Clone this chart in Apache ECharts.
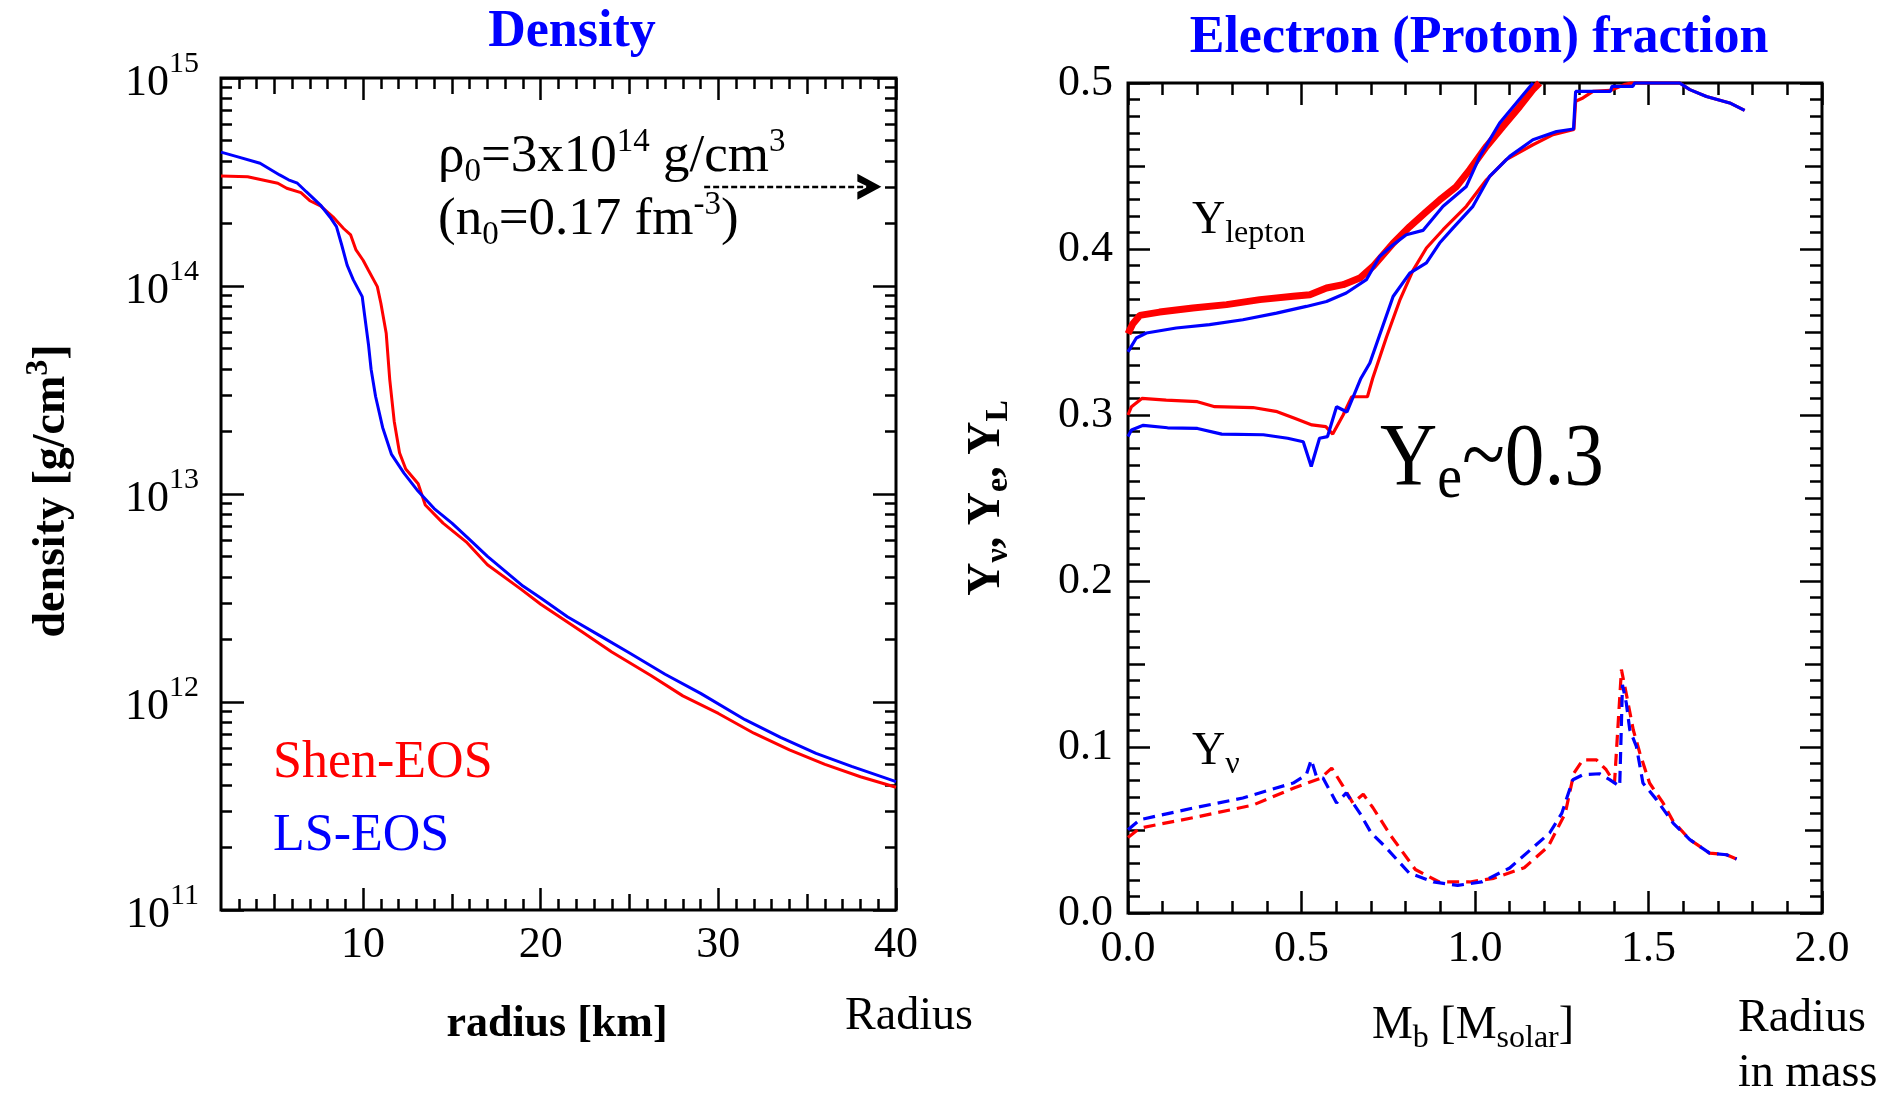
<!DOCTYPE html>
<html>
<head>
<meta charset="utf-8">
<title>Density and electron fraction profiles</title>
<script src="https://cdn.jsdelivr.net/npm/echarts@6/dist/echarts.min.js"></script>
<style>
  html, body { margin: 0; padding: 0; background: #fff; overflow: hidden; }
  #chart { width: 1898px; height: 1093px; }
</style>
</head>
<body>
<div id="chart"></div>
<script>
// ---------- Left panel: density profile, radius [km] vs density [g/cm^3] ----------
const shenRadius = [2, 3.5, 5.2, 5.7, 6.5, 7.0, 7.6, 8.3, 8.9, 9.3, 9.6, 10.0, 10.3, 10.8, 11.0, 11.3, 11.5, 11.75, 12.05, 12.4,
  13.1, 13.5, 14.5, 15.8, 17, 18.9, 20, 22.3, 24, 26.2, 28, 30, 32, 34, 36, 38, 40];
const shenDensity = [3.38e14, 3.35e14, 3.12e14, 2.95e14, 2.81e14, 2.57e14, 2.43e14, 2.15e14, 1.89e14, 1.76e14,
  1.49e14, 1.33e14, 1.19e14, 9.93e13, 8.26e13, 5.93e13, 3.55e13, 2.24e13, 1.58e13, 1.32e13,
  1.12e13, 8.85e12, 7.24e12, 5.89e12, 4.57e12, 3.48e12, 2.95e12, 2.18e12, 1.74e12, 1.34e12,
  1.07e12, 8.81e11, 7.08e11, 5.89e11, 5.01e11, 4.37e11, 3.89e11];

const lsRadius = [2, 2.9, 4.2, 5.3, 5.8, 6.3, 6.8, 7.6, 8.2, 8.5, 8.8, 9.1, 9.45, 9.95, 10.1, 10.3, 10.45, 10.7, 11.1, 11.6,
  12.3, 13.1, 14, 15, 16, 17, 19, 20, 21.5, 23.3, 25, 27, 29, 31.5, 33.5, 35.5, 37.5, 40];
const lsDensity = [4.40e14, 4.19e14, 3.89e14, 3.42e14, 3.24e14, 3.12e14, 2.84e14, 2.45e14, 2.11e14, 1.93e14,
  1.57e14, 1.26e14, 1.07e14, 8.89e13, 7.08e13, 5.25e13, 3.98e13, 2.95e13, 2.09e13, 1.55e13,
  1.26e13, 1.03e13, 8.51e12, 7.24e12, 6.03e12, 5.01e12, 3.61e12, 3.16e12, 2.57e12, 2.09e12,
  1.72e12, 1.36e12, 1.10e12, 8.22e11, 6.76e11, 5.66e11, 4.90e11, 4.14e11];

// nuclear saturation density marker (rho_0 = 3x10^14 g/cm^3): dotted arrow from / to these radii
const nuclearDensity = 3e14;
const rhoArrowRadius = [29.2, 38.5];

// tick values of the density panel
const radiusMajorTicks = [10, 20, 30, 40];
const radiusMidTicks = [5, 15, 25, 35];
const radiusMinorTicks = [];
for (let r = 3; r < 40; r++) if (r % 5 !== 0) radiusMinorTicks.push(r);
const densityDecades = [1e11, 1e12, 1e13, 1e14, 1e15];
const densityMinorTicks = [];
[1e11, 1e12, 1e13, 1e14].forEach(d => { for (let k = 2; k <= 9; k++) densityMinorTicks.push(k * d); });
// keep the top decade a hair inside the axis extent so float round-off in the log scale does not drop it
const densityDecadeTicks = densityDecades.map(v => (v === 1e15 ? v * (1 - 1e-9) : v));

// ---------- Right panel: lepton, electron and neutrino fractions vs baryon mass [M_solar] ----------
const shenYlepton = [[0, 0.349], [0.014, 0.355], [0.034, 0.360], [0.091, 0.362], [0.187, 0.3645], [0.284, 0.3665],
  [0.38, 0.3695], [0.476, 0.3715], [0.524, 0.3725], [0.572, 0.3765], [0.62, 0.3785], [0.668, 0.3825], [0.706, 0.3895],
  [0.764, 0.4035], [0.812, 0.4135], [0.86, 0.4225], [0.898, 0.4295], [0.946, 0.4375], [0.985, 0.4478], [1.033, 0.4618],
  [1.081, 0.4739], [1.129, 0.4859], [1.167, 0.496], [1.186, 0.5]];

const lsYlepton = [[0, 0.338], [0.024, 0.3464], [0.053, 0.3494], [0.139, 0.3524], [0.235, 0.3544], [0.331, 0.3574],
  [0.428, 0.3614], [0.514, 0.3654], [0.572, 0.3684], [0.629, 0.3735], [0.687, 0.3815], [0.725, 0.3955], [0.764, 0.4026],
  [0.802, 0.4086], [0.85, 0.4112], [0.908, 0.4257], [0.975, 0.4377], [1.014, 0.4558], [1.071, 0.4759], [1.119, 0.488],
  [1.167, 0.5]];

const shenYe = [[0, 0.300], [0.01, 0.305], [0.04, 0.310], [0.11, 0.309], [0.2, 0.308], [0.25, 0.305], [0.36, 0.3045],
  [0.43, 0.302], [0.48, 0.298], [0.53, 0.294], [0.57, 0.293], [0.59, 0.2885], [0.62, 0.300], [0.645, 0.311], [0.69, 0.311],
  [0.705, 0.322], [0.745, 0.347], [0.783, 0.369], [0.821, 0.387], [0.86, 0.4006], [0.908, 0.4116], [0.975, 0.4257],
  [1.033, 0.4417], [1.09, 0.4538], [1.167, 0.4628], [1.225, 0.4689], [1.285, 0.472], [1.29, 0.489], [1.311, 0.491],
  [1.34, 0.4949], [1.39, 0.4955], [1.43, 0.499], [1.45, 0.5], [1.59, 0.5], [1.619, 0.496], [1.667, 0.4919],
  [1.734, 0.488], [1.777, 0.4835]];

const lsYe = [[0, 0.287], [0.01, 0.291], [0.044, 0.2938], [0.114, 0.2923], [0.2, 0.2919], [0.27, 0.2885], [0.39, 0.2881],
  [0.46, 0.286], [0.505, 0.2839], [0.528, 0.269], [0.552, 0.286], [0.575, 0.287], [0.601, 0.305], [0.631, 0.3018],
  [0.671, 0.322], [0.697, 0.3313], [0.764, 0.3714], [0.812, 0.3855], [0.86, 0.3916], [0.898, 0.4036], [0.937, 0.4127],
  [0.994, 0.4257], [1.042, 0.4437], [1.1, 0.4558], [1.167, 0.4658], [1.235, 0.4708], [1.284, 0.4723], [1.29, 0.4949],
  [1.39, 0.4949], [1.395, 0.498], [1.455, 0.498], [1.46, 0.5], [1.59, 0.5], [1.619, 0.496], [1.667, 0.4919],
  [1.734, 0.488], [1.777, 0.4835]];

const shenYnu = [[0, 0.0455], [0.035, 0.0512], [0.19, 0.0575], [0.36, 0.065], [0.48, 0.0755], [0.555, 0.0812],
  [0.587, 0.0873], [0.62, 0.0763], [0.648, 0.0663], [0.678, 0.0715], [0.706, 0.0634], [0.758, 0.0464], [0.828, 0.0262],
  [0.897, 0.0187], [0.985, 0.0187], [1.054, 0.0209], [1.142, 0.0273], [1.211, 0.04], [1.26, 0.06], [1.285, 0.0843],
  [1.311, 0.0923], [1.35, 0.0923], [1.378, 0.0863], [1.402, 0.0783], [1.422, 0.1466], [1.436, 0.132], [1.456, 0.1104],
  [1.475, 0.0964], [1.503, 0.0783], [1.542, 0.0663], [1.571, 0.0552], [1.619, 0.0442], [1.676, 0.0361],
  [1.725, 0.0351], [1.754, 0.0325]];

const lsYnu = [[0, 0.0502], [0.034, 0.0562], [0.187, 0.0632], [0.331, 0.0693], [0.476, 0.0783], [0.514, 0.0833],
  [0.528, 0.0923], [0.543, 0.0823], [0.562, 0.0813], [0.601, 0.0663], [0.629, 0.0723], [0.668, 0.0602], [0.701, 0.0482],
  [0.741, 0.04], [0.81, 0.0241], [0.88, 0.0187], [0.95, 0.0166], [1.019, 0.0187], [1.1, 0.0271], [1.215, 0.0482],
  [1.25, 0.06], [1.282, 0.0803], [1.311, 0.0833], [1.359, 0.0839], [1.388, 0.0803], [1.417, 0.0763], [1.425, 0.1375],
  [1.436, 0.1265], [1.446, 0.1104], [1.465, 0.1004], [1.484, 0.0783], [1.523, 0.0683], [1.571, 0.0542], [1.619, 0.0442],
  [1.676, 0.0361], [1.725, 0.0351], [1.754, 0.0325]];

// tick values of the fraction panel
const massMajorTicks = [0, 0.5, 1.0, 1.5, 2.0];
const massMinorTicks = [0.1, 0.2, 0.3, 0.4, 0.6, 0.7, 0.8, 0.9, 1.1, 1.2, 1.3, 1.4, 1.6, 1.7, 1.8, 1.9];
const fracMajorTicks = [0, 0.1, 0.2, 0.3, 0.4, 0.5];
const fracMidTicks = [0.05, 0.15, 0.25, 0.35, 0.45];
const fracMinorTicks = [];
for (let i = 1; i < 50; i++) if (i % 5 !== 0) fracMinorTicks.push(+(i / 100).toFixed(2));

// ---------- styling ----------
const FONT = '"Liberation Serif", "Times New Roman", serif';
const RED = '#ff0000';
const BLUE = '#0000ff';
const zip = (xs, ys) => xs.map((x, i) => [x, ys[i]]);

const scaleLeftX = { type: 'value', min: 2, max: 40 };
const scaleLeftY = { type: 'log', logBase: 10, min: 1e11, max: 1e15 };
const scaleRightX = { type: 'value', min: 0, max: 2 };
const scaleRightY = { type: 'value', min: 0, max: 0.5 };

// one axis per tick family; axes sharing a side overlap so ticks of different lengths can be mixed
function tickAxis(gridIndex, position, scale, values, length, label) {
  const ax = Object.assign({
    gridIndex: gridIndex,
    position: position,
    axisLine: { show: false, onZero: false },
    axisTick: { show: true, inside: true, length: length, customValues: values,
      lineStyle: { color: '#000', width: 2.5 } },
    axisLabel: { show: false },
    splitLine: { show: false },
    minorTick: { show: false },
    minorSplitLine: { show: false }
  }, scale);
  if (label) ax.axisLabel = Object.assign({ show: true, customValues: values, color: '#000',
    showMinLabel: true, showMaxLabel: true, hideOverlap: false }, label);
  return ax;
}

const plainLabel = (margin, fmt) => ({
  margin: margin, fontFamily: FONT, fontSize: 44, lineHeight: 44, color: '#000', formatter: fmt
});

const decadeLabel = {
  margin: 22,
  formatter: v => {
    const e = v > 1000 ? Math.round(Math.log10(v)) : Math.round(v);
    return '{b|10}{s|' + e + '}';
  },
  rich: {
    b: { fontFamily: FONT, fontSize: 44, lineHeight: 44, color: '#000', padding: [10, 0, 0, 0] },
    s: { fontFamily: FONT, fontSize: 30, lineHeight: 30, color: '#000', padding: [0, 0, 28, 0] }
  }
};

const xAxes = [
  // density panel (indices 0-5)
  tickAxis(0, 'bottom', scaleLeftX, radiusMajorTicks, 22, plainLabel(13, v => String(v))),
  tickAxis(0, 'bottom', scaleLeftX, radiusMidTicks, 16),
  tickAxis(0, 'bottom', scaleLeftX, radiusMinorTicks, 11),
  tickAxis(0, 'top', scaleLeftX, radiusMajorTicks, 22),
  tickAxis(0, 'top', scaleLeftX, radiusMidTicks, 16),
  tickAxis(0, 'top', scaleLeftX, radiusMinorTicks, 11),
  // fraction panel (indices 6-9)
  tickAxis(1, 'bottom', scaleRightX, massMajorTicks, 22, plainLabel(14, v => (+v).toFixed(1))),
  tickAxis(1, 'bottom', scaleRightX, massMinorTicks, 12),
  tickAxis(1, 'top', scaleRightX, massMajorTicks, 22),
  tickAxis(1, 'top', scaleRightX, massMinorTicks, 12)
];

const yAxes = [
  // density panel (indices 0-3)
  tickAxis(0, 'left', scaleLeftY, densityDecadeTicks, 23, decadeLabel),
  tickAxis(0, 'left', scaleLeftY, densityMinorTicks, 11),
  tickAxis(0, 'right', scaleLeftY, densityDecadeTicks, 23),
  tickAxis(0, 'right', scaleLeftY, densityMinorTicks, 11),
  // fraction panel (indices 4-9)
  tickAxis(1, 'left', scaleRightY, fracMajorTicks, 22, plainLabel(15, v => (+v).toFixed(1))),
  tickAxis(1, 'left', scaleRightY, fracMidTicks, 17),
  tickAxis(1, 'left', scaleRightY, fracMinorTicks, 12),
  tickAxis(1, 'right', scaleRightY, fracMajorTicks, 22),
  tickAxis(1, 'right', scaleRightY, fracMidTicks, 17),
  tickAxis(1, 'right', scaleRightY, fracMinorTicks, 12)
];

// open chevron pointing to the right
const arrowHead = 'path://M0,0 L20,10 L0,20 L0,14 L9,10 L0,6 Z';

function lineSeries(name, data, xi, yi, color, width, dashed) {
  return {
    name: name, type: 'line', xAxisIndex: xi, yAxisIndex: yi, data: data,
    symbol: 'none', showSymbol: false, smooth: false, clip: false,
    lineStyle: { color: color, width: width, type: dashed ? [12, 7] : 'solid' },
    emphasis: { disabled: true }
  };
}

const shenDensitySeries = lineSeries('Shen-EOS', zip(shenRadius, shenDensity), 0, 0, RED, 3);
shenDensitySeries.markLine = {
  silent: true,
  symbol: ['none', 'none'],
  label: { show: false },
  lineStyle: { color: '#000', width: 2.4, type: [6, 3] },
  emphasis: { disabled: true },
  data: [[{ coord: [rhoArrowRadius[0], nuclearDensity] }, { coord: [rhoArrowRadius[1] + 0.5, nuclearDensity] }]]
};
shenDensitySeries.markPoint = {
  silent: true,
  symbol: arrowHead,
  symbolSize: [24, 26],
  itemStyle: { color: '#000' },
  label: { show: false },
  emphasis: { disabled: true },
  data: [{ coord: [rhoArrowRadius[1], nuclearDensity] }]
};

const series = [
  shenDensitySeries,
  lineSeries('LS-EOS', zip(lsRadius, lsDensity), 0, 0, BLUE, 3),
  lineSeries('Shen Y_lepton', shenYlepton, 6, 4, RED, 7),
  lineSeries('LS Y_lepton', lsYlepton, 6, 4, BLUE, 3.2),
  lineSeries('Shen Y_e', shenYe, 6, 4, RED, 3.2),
  lineSeries('LS Y_e', lsYe, 6, 4, BLUE, 3.2),
  lineSeries('Shen Y_nu', shenYnu, 6, 4, RED, 3.2, true),
  lineSeries('LS Y_nu', lsYnu, 6, 4, BLUE, 3.2, true)
];

// ---------- titles, axis names and annotations ----------
function text(x, y, str, size, opts) {
  opts = opts || {};
  const base = { fontFamily: FONT, fontSize: size, fontWeight: opts.bold ? 'bold' : 'normal', fill: opts.color || '#000' };
  const rich = {
    r: Object.assign({}, base, { lineHeight: size }),
    sp: Object.assign({}, base, { fontSize: opts.small, lineHeight: opts.small, padding: [0, 0, opts.shift || 0, 0] }),
    sb: Object.assign({}, base, { fontSize: opts.small, lineHeight: opts.small, padding: [opts.shift || 0, 0, 0, 0] })
  };
  return {
    type: 'text', x: x, y: y, rotation: opts.rotate ? Math.PI / 2 : 0,
    scaleX: opts.sx || 1, silent: true, z: 100,
    style: Object.assign({}, base, {
      text: str, align: opts.align || 'left', verticalAlign: 'middle', rich: rich
    })
  };
}

const graphics = [
  text(572, 33, 'Density', 52, { bold: true, color: BLUE, align: 'center' }),
  text(1479, 39, 'Electron (Proton) fraction', 52, { bold: true, color: BLUE, align: 'center' }),

  text(52, 491, '{r|density [g/cm}{sp|3}{r|]}', 46, { bold: true, small: 32, shift: 26, rotate: true, align: 'center' }),
  text(557, 1025, 'radius [km]', 44, { bold: true, align: 'center' }),
  text(909, 1017, 'Radius', 46, { align: 'center' }),

  text(438, 157, '{r|ρ}{sb|0}{r|=3x10}{sp|14}{r| g/cm}{sp|3}', 53, { small: 33, shift: 30 }),
  text(438, 220, '{r|(n}{sb|0}{r|=0.17 fm}{sp|-3}{r|)}', 53, { small: 33, shift: 30 }),
  text(273, 763, 'Shen-EOS', 52, { color: RED }),
  text(273, 836, 'LS-EOS', 52, { color: BLUE }),

  text(987, 498, '{r|Y}{sb|ν}{r|, Y}{sb|e}{r|, Y}{sb|L}', 46, { bold: true, small: 32, shift: 24, rotate: true, align: 'center' }),
  text(1473, 1026, '{r|M}{sb|b}{r| [M}{sb|solar}{r|]}', 46, { small: 32, shift: 26, align: 'center' }),
  text(1738, 1019, 'Radius', 46),
  text(1738, 1074, 'in mass', 46),

  text(1192, 221, '{r|Y}{sb|lepton}', 46, { small: 32, shift: 26 }),
  text(1192, 752, '{r|Y}{sb|ν}', 46, { small: 32, shift: 26 }),
  text(1380, 461, '{r|Y}{sb|e}{r|~0.3}', 88, { small: 62, shift: 40, sx: 0.9 })
];

const chart = echarts.init(document.getElementById('chart'));
chart.setOption({
  backgroundColor: '#fff',
  animation: false,
  grid: [
    { left: 221, top: 78, width: 675, height: 832, show: true, borderColor: '#000', borderWidth: 3, backgroundColor: 'transparent' },
    { left: 1128, top: 83, width: 694, height: 830, show: true, borderColor: '#000', borderWidth: 3, backgroundColor: 'transparent' }
  ],
  xAxis: xAxes,
  yAxis: yAxes,
  series: series,
  graphic: graphics
});
</script>
</body>
</html>
